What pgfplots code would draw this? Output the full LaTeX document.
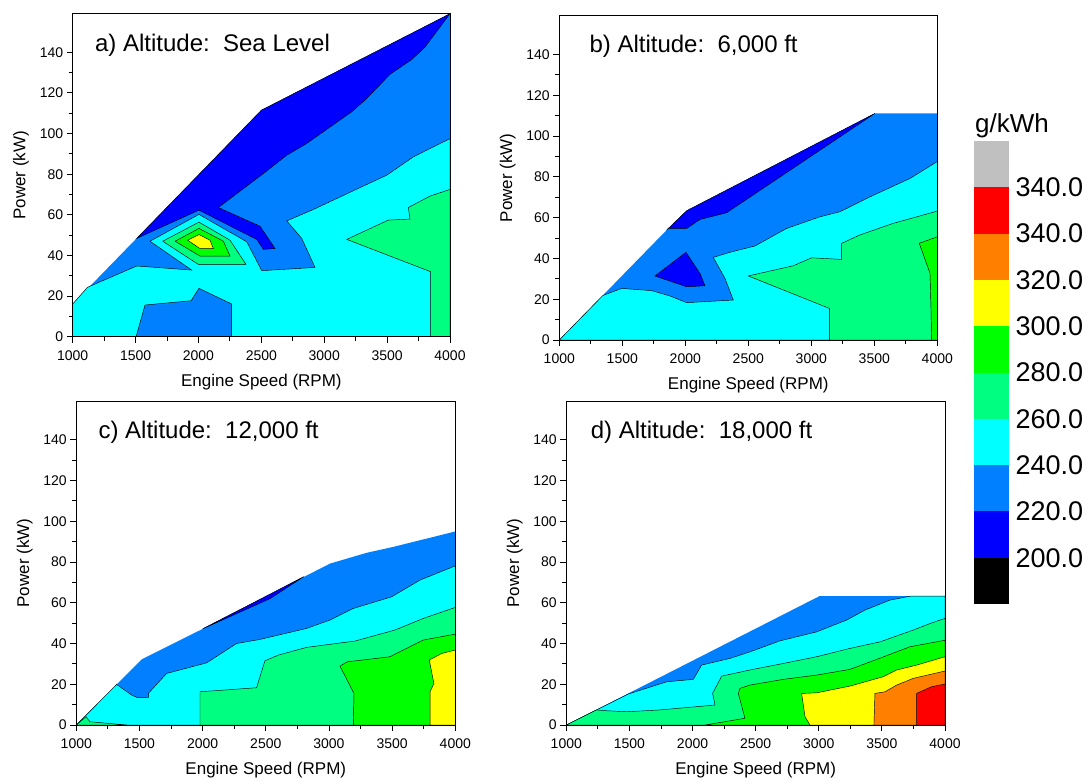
\documentclass[border=0pt]{standalone}
\usepackage{fontspec}
\setmainfont{Liberation Sans}
\usepackage{pgfplots}
\pgfplotsset{compat=1.18}

% contour level colours (g/kWh)
\definecolor{lvA}{RGB}{0,0,0}       % < 200
\definecolor{lvB}{RGB}{0,0,255}     % 200-220
\definecolor{lvC}{RGB}{0,128,255}   % 220-240
\definecolor{lvD}{RGB}{0,255,255}   % 240-260
\definecolor{lvE}{RGB}{0,255,128}   % 260-280
\definecolor{lvF}{RGB}{0,255,0}     % 280-300
\definecolor{lvG}{RGB}{255,255,0}   % 300-320
\definecolor{lvH}{RGB}{255,128,0}   % 320-340
\definecolor{lvI}{RGB}{255,0,0}     % 340
\definecolor{lvJ}{RGB}{192,192,192} % > 340

\pgfplotsset{
  panel/.style={
    anchor=south west, scale only axis,
    xmin=1000, xmax=4000, ymin=0, ymax=159,
    xtick={1000,1500,...,4000}, ytick={0,20,...,140},
    minor x tick num=1, minor y tick num=1,
    tick align=outside, tick pos=left,
    major tick length=6pt, minor tick length=4pt,
    axis line style={line width=1pt},
    every tick/.style={line width=0.9pt, black},
    axis on top,
    tick label style={font=\fontsize{14}{16}\selectfont},
    xticklabel style={yshift=-4pt},
    label style={font=\fontsize{17}{19}\selectfont},
    xlabel style={yshift=-7pt}, ylabel style={yshift=4pt},
    xlabel={Engine Speed (RPM)}, ylabel={Power (kW)},
    /pgf/number format/assume math mode=true,
    /pgf/number format/set thousands separator={},
  },
  cl/.style={draw=black, line width=0.45pt},
}
\tikzset{ttl/.style={anchor=west, font=\fontsize{24}{26}\selectfont}}

\begin{document}
\begin{tikzpicture}
\useasboundingbox (0,0) rectangle (1091pt,-781pt);

% ---------- a) sea level
\begin{axis}[panel, at={(72.7pt,-336.7pt)}, width=377.3pt, height=323pt]
\addplot[fill=lvC, draw=none] coordinates {(1000,0) (4000,0) (4000,159) (2500,111.5) (1000,16.1)} -- cycle;
\addplot[fill=lvD, cl] coordinates {(1000,0) (1000,16.1) (1117,24.3) (1509,34.8) (1946,32.8) (1615,47.0) (2004,60.2) (2384,46.7) (2503,32.5) (2927,34.1) (2821,48.4) (2702,57.0) (2913,62.6) (3271,73) (3497,79.5) (3708,88.5) (4000,97.5) (4000,0)} -- cycle;
\addplot[fill=lvB, cl] coordinates {(1509,48.4) (2004,62.3) (2463,47.9) (2516,43) (2609,43.4) (2489,54.4) (2158,63.6) (2516,80.3) (2701,89.3) (2860,95.1) (3218,110.7) (3337,117.2) (3523,129.2) (3695,136.4) (3801,142.6) (4000,159) (2500,111.5)} -- cycle;
\addplot[fill=lvC, cl] coordinates {(1504,0) (1575,15.6) (1941,17.7) (2004,23.8) (2264,16.1) (2264,0)} -- cycle;
\addplot[fill=lvE, cl] coordinates {(3179,47.9) (3510,57.4) (3682,57.9) (3669,63.6) (3841,69.2) (4000,72.5) (4000,0) (3846,0) (3846,32)} -- cycle;
\addplot[fill=lvE, cl] coordinates {(1716,47.0) (2004,56.4) (2251,47.5) (2378,35.6) (1999,35.6)} -- cycle;
\addplot[fill=lvF, cl] coordinates {(1814,47.0) (2004,53.3) (2198,47.0) (2251,39.7) (2012,39.7)} -- cycle;
\addplot[fill=lvG, cl] coordinates {(1914,47.5) (2004,50.3) (2092,47.5) (2118,43.4) (2012,43.4)} -- cycle;
\node[ttl] at (axis cs:1150,143.4) {a) Altitude:\ \ Sea Level};
\end{axis}

% ---------- b) 6,000 ft
\begin{axis}[panel, at={(559.3pt,-340pt)}, width=378pt, height=324.3pt]
\addplot[fill=lvC, draw=none] coordinates {(1000,0) (4000,0) (4000,111.1) (3505,111.1) (2011,63.4) (1852,53.9)} -- cycle;
\addplot[fill=lvD, cl] coordinates {(1000,0) (1345,21.8) (1495,25.3) (1733,24.2) (1878,21.6) (2011,18.3) (2381,19.6) (2315,30.2) (2222,40.5) (2354,43) (2553,46.1) (2804,54.7) (3069,60.4) (3228,62.9) (3466,70.2) (3783,79.2) (4000,87.5) (4000,0)} -- cycle;
\addplot[fill=lvB, cl] coordinates {(1865,54.7) (2011,54.7) (2116,59.1) (2328,62.4) (3505,111.1) (2011,63.4) (1852,53.9)} -- cycle;
\addplot[fill=lvB, cl] coordinates {(1759,31.4) (2005,43.0) (2116,32.7) (2156,26.6) (2011,26.1)} -- cycle;
\addplot[fill=lvE, cl] coordinates {(2500,31.4) (2857,36.4) (3003,40.3) (3241,39.5) (3241,47.4) (3386,51.5) (3651,57.2) (4000,63.2) (4000,0) (3143,0) (3143,15.5)} -- cycle;
\addplot[fill=lvF, cl] coordinates {(3857,47.4) (4000,50.6) (4000,0) (3955,0) (3950,15) (3942,32.7)} -- cycle;
\node[ttl] at (axis cs:1212,144) {b) Altitude:\ \ 6,000 ft};
\end{axis}

% ---------- c) 12,000 ft
\begin{axis}[panel, at={(76.3pt,-725pt)}, width=379pt, height=324pt]
\addplot[fill=lvC, draw=none] coordinates {(1000,0) (1319,19.9) (1517,32.2) (1992,46.9) (2533,64.2) (3008,79.2) (3298,84.5) (3509,87.4) (3826,92.3) (4000,95) (4000,0)} -- cycle;
\addplot[fill=lvB, cl] coordinates {(2000,47.2) (2533,64.2) (2800,72.8) (2533,62.0)} -- cycle;
\addplot[fill=lvD, cl] coordinates {(1000,0) (1319,19.9) (1438,14.7) (1478,13.6) (1570,13.6) (1570,15.5) (1715,25.3) (2032,30.5) (2269,40) (2454,42) (2823,47.4) (3008,51.5) (3193,57.2) (3496,62.9) (3720,71.1) (4000,78.1) (4000,0)} -- cycle;
\addplot[fill=lvE, cl] coordinates {(1979,0) (1979,16.3) (2427,18.3) (2493,31.5) (2599,34.3) (2823,38.1) (3206,41.2) (3522,46.6) (3747,52.3) (4000,57.7) (4000,0)} -- cycle;
\addplot[fill=lvE, cl] coordinates {(1000,0) (1077,4.1) (1108,1.6) (1400,0)} -- cycle;
\addplot[fill=lvF, cl] coordinates {(3087,28.9) (3145,31.0) (3483,33.5) (3615,37.6) (3747,41.7) (4000,44.6) (4000,0) (3193,0) (3198,15.5)} -- cycle;
\addplot[fill=lvG, cl] coordinates {(3794,31.9) (3892,35.1) (4000,36.8) (4000,0) (3800,0) (3800,16.3) (3831,20.4)} -- cycle;
\node[ttl] at (axis cs:1148,143.7) {c) Altitude:\ \ 12,000 ft};
\end{axis}

% ---------- d) 18,000 ft
\begin{axis}[panel, at={(566.3pt,-725pt)}, width=378.7pt, height=324pt]
\addplot[fill=lvC, draw=none] coordinates {(1000,0) (3004,63.2) (4000,63.2) (4000,0)} -- cycle;
\addplot[fill=lvD, cl] coordinates {(1000,0) (1491,15.2) (1795,21.2) (2006,22.4) (2072,29.4) (2297,32.7) (2455,35.9) (2693,41.3) (2983,45.7) (3221,51.5) (3366,56.4) (3564,61.3) (3723,63.2) (4000,63.2) (4000,0)} -- cycle;
\addplot[fill=lvE, cl] coordinates {(1000,0) (1240,7.4) (1320,7.0) (1478,6.5) (1742,7.4) (2178,9.8) (2159,15.5) (2231,24.0) (2455,27.0) (2719,30.2) (2983,33.5) (3247,37.6) (3485,40.8) (3749,46.6) (3881,49.8) (4000,52.3) (4000,0)} -- cycle;
\addplot[fill=lvF, cl] coordinates {(2100,0) (2415,3.3) (2363,15.5) (2376,18.0) (2455,19.6) (2719,22.4) (2983,24.5) (3247,27.3) (3459,32.2) (3723,38.4) (4000,41.6) (4000,0)} -- cycle;
\addplot[fill=lvG, cl] coordinates {(2864,15.5) (2983,15.8) (3247,19.1) (3511,23.7) (3617,27.0) (3775,29.4) (4000,33.5) (4000,0) (2930,0) (2891,4.1)} -- cycle;
\addplot[fill=lvH, cl] coordinates {(3445,15.5) (3525,16.3) (3617,19.6) (3749,22.9) (4000,26.5) (4000,0) (3437,0)} -- cycle;
\addplot[fill=lvI, cl] coordinates {(3775,15.5) (3894,18.8) (4000,20.1) (4000,0) (3775,0)} -- cycle;
\node[ttl] at (axis cs:1166,143.7) {d) Altitude:\ \ 18,000 ft};
\end{axis}

% ---------- colour scale
\begin{axis}[at={(974pt,-604pt)}, anchor=south west, scale only axis, clip=false,
  width=35pt, height=463pt, xmin=0, xmax=1, ymin=0, ymax=10,
  axis line style={draw=none}, xtick=\empty,
  ytick={1,...,9},
  yticklabels={200.0,220.0,240.0,260.0,280.0,300.0,320.0,340.0,340.0},
  yticklabel pos=right, major tick length=0pt, tick style={draw=none},
  yticklabel style={font=\fontsize{27}{29}\selectfont, xshift=3pt}]
\addplot[fill=lvA, draw=none] coordinates {(0,0) (1,0) (1,1) (0,1)} -- cycle;
\addplot[fill=lvB, draw=none] coordinates {(0,1) (1,1) (1,2) (0,2)} -- cycle;
\addplot[fill=lvC, draw=none] coordinates {(0,2) (1,2) (1,3) (0,3)} -- cycle;
\addplot[fill=lvD, draw=none] coordinates {(0,3) (1,3) (1,4) (0,4)} -- cycle;
\addplot[fill=lvE, draw=none] coordinates {(0,4) (1,4) (1,5) (0,5)} -- cycle;
\addplot[fill=lvF, draw=none] coordinates {(0,5) (1,5) (1,6) (0,6)} -- cycle;
\addplot[fill=lvG, draw=none] coordinates {(0,6) (1,6) (1,7) (0,7)} -- cycle;
\addplot[fill=lvH, draw=none] coordinates {(0,7) (1,7) (1,8) (0,8)} -- cycle;
\addplot[fill=lvI, draw=none] coordinates {(0,8) (1,8) (1,9) (0,9)} -- cycle;
\addplot[fill=lvJ, draw=none] coordinates {(0,9) (1,9) (1,10) (0,10)} -- cycle;
\node[anchor=base west, font=\fontsize{26}{28}\selectfont, xshift=-2.3pt, yshift=9pt] at (rel axis cs:0,1) {g/kWh};
\end{axis}
\end{tikzpicture}
\end{document}
